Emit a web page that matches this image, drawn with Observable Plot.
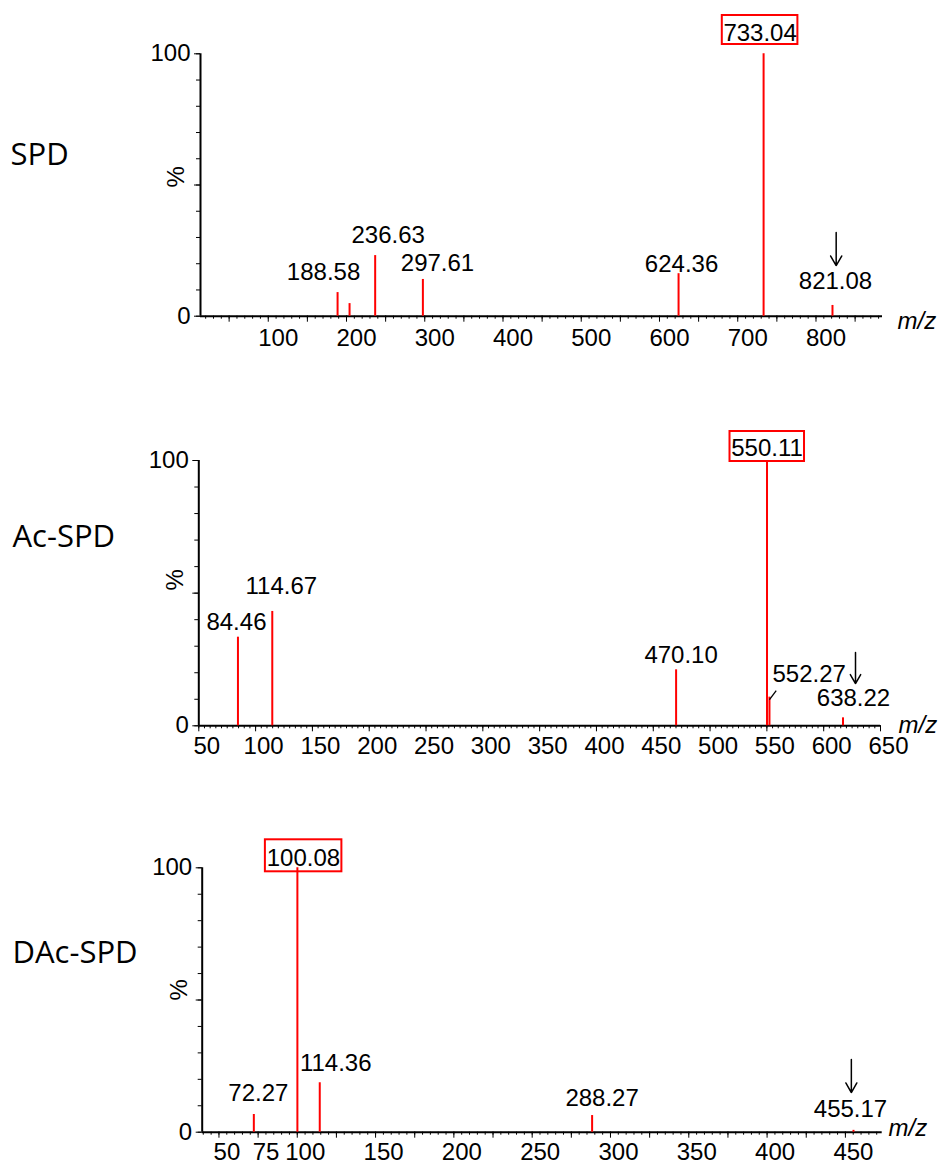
<!DOCTYPE html>
<html><head><meta charset="utf-8">
<script src="https://cdn.jsdelivr.net/npm/d3@7"></script>
<script src="https://cdn.jsdelivr.net/npm/@observablehq/plot@0.6"></script>
<style>
body{margin:0;background:#fff;}
#chart{position:relative;width:941px;height:1164px;background:#fff;}
#chart svg{position:absolute;left:0;overflow:visible;background:transparent;}
</style></head><body><div id="chart"></div>
<script>
// ---------- DATA ----------
const panelNames = ["SPD", "Ac-SPD", "DAc-SPD"];

const spdMz        = [188.58, 203.9, 236.63, 297.61, 624.36, 733.04, 821.08];
const spdIntensity = [9.0, 4.8, 23.1, 14.0, 16.2, 100, 4.1];
const spdLabels    = ["188.58", "", "236.63", "297.61", "624.36", "733.04", "821.08"];
const spdTicks     = [100, 200, 300, 400, 500, 600, 700, 800];

const acMz         = [84.46, 114.67, 470.10, 550.11, 552.27, 617.0];
const acIntensity  = [33.4, 43.1, 21.1, 100, 10.8, 3.0];
const acLabels     = ["84.46", "114.67", "470.10", "550.11", "552.27", "638.22"];
const acTicks      = [50, 100, 150, 200, 250, 300, 350, 400, 450, 500, 550, 600, 650];

const dacMz        = [72.27, 100.08, 114.36, 288.27, 455.17];
const dacIntensity = [6.7, 100, 18.7, 6.3, 0.7];
const dacLabels    = ["72.27", "100.08", "114.36", "288.27", "455.17"];
const dacTicks     = [50, 75, 100, 150, 200, 250, 300, 350, 400, 450];

// precursor arrows (m/z, from %, to %)
const spdArrow = {mz: 825.8, from: 31.9, to: 19.3};
const acArrow  = {mz: 628.0, from: 27.6, to: 15.9};
const dacArrow = {mz: 453.8, from: 27.5, to: 15.0};
// leader line for 552.27
const acLeader = {x1: 552.27, y1: 9.9, x2: 558.2, y2: 13.3};

// ---------- LAYOUT ----------
const FONT = "'Liberation Sans', Arial, sans-serif";
const RED = "#ff0000";
const layouts = [
  {top: 0, height: 360, mt: 53.3, mb: 44.3, ml: 200, mr: 59, domain: [13.4, 885],
   minor: 10, major: 50, labelDx: 10, labelPad: 12.6,
   offsets: [[-14,-13],[0,0],[13,-13],[14.6,-8],[3,-2],[-3.5,-13.3],[3,-16]],
   box: {l: -41.3, r: -34.3, t: -38.3, b: 9.3},
   title: {dx: -190, dy: -29.5}, pct: {dx: -24, dy: 2.5}, mz: {dx: 15, dy: 12.3}},
  {top: 360, height: 400, mt: 100, mb: 34.7, ml: 198.3, mr: 61, domain: [50, 650],
   minor: 5, major: 50, labelDx: 8, labelPad: 11.4,
   offsets: [[-1.5,-6.7],[9,-17],[5,-7],[0,-5],[39.7,-15],[10.5,-12]],
   box: {l: -37, r: -37.5, t: -29, b: -1},
   title: {dx: -186.3, dy: -55.7}, pct: {dx: -23.3, dy: -2.7}, mz: {dx: 18, dy: 6.7}},
  {top: 760, height: 404, mt: 107.3, mb: 32.3, ml: 201.7, mr: 59.3, domain: [39.3, 473.5],
   minor: 5, major: 25, labelDx: 8, labelPad: 11,
   offsets: [[4.5,-13],[6,-2.3],[16,-12],[10,-10],[-3,-13]],
   box: {l: -32, r: -44.5, t: -28, b: -4},
   title: {dx: -189.7, dy: -46.5}, pct: {dx: -23, dy: 0.5}, mz: {dx: 6.3, dy: 3.3}}
];

const datasets = [
  {mz: spdMz, inten: spdIntensity, labels: spdLabels, ticks: spdTicks, base: 5, arrow: spdArrow, leader: null},
  {mz: acMz, inten: acIntensity, labels: acLabels, ticks: acTicks, base: 3, arrow: acArrow, leader: acLeader},
  {mz: dacMz, inten: dacIntensity, labels: dacLabels, ticks: dacTicks, base: 1, arrow: dacArrow, leader: null}
];

const chart = document.getElementById("chart");

datasets.forEach((ds, p) => {
  const L = layouts[p];
  const peaks = ds.mz.map((m, i) => ({mz: m, inten: ds.inten[i], label: ds.labels[i]}));
  const [d0, d1] = L.domain;
  const minorTicks = d3.range(Math.ceil(d0 / L.minor) * L.minor, d1 + 0.001, L.minor);
  const majorTicks = d3.range(Math.ceil(d0 / L.major) * L.major, d1 + 0.001, L.major);

  const marks = [
    Plot.axisY({ticks: d3.range(0, 101, 10), tickSize: 4, text: null, label: null}),
    Plot.axisY({ticks: [0, 50, 100], tickSize: 6, text: null, label: null}),
    Plot.axisY({ticks: [0, 100], tickSize: 0, tickPadding: 10, fontSize: 24, fontFamily: FONT,
                tickFormat: d => String(d), label: null, fill: "#000"}),
    Plot.axisX({ticks: minorTicks, tickSize: 3, text: null, label: null}),
    Plot.axisX({ticks: majorTicks, tickSize: 6, text: null, label: null}),
    Plot.axisX({ticks: ds.ticks, tickSize: 0, tickPadding: L.labelPad, dx: L.labelDx, fontSize: 24,
                fontFamily: FONT, tickFormat: d => String(d), label: null, fill: "#000"}),
    Plot.ruleY([0], {stroke: "#000", strokeWidth: 2}),
    Plot.ruleX([d0], {y1: 0, y2: 100, stroke: "#000", strokeWidth: 2}),
    Plot.ruleX(peaks, {x: "mz", y1: 0, y2: "inten", stroke: RED, strokeWidth: 2}),
    Plot.rect([peaks[ds.base]], {x1: "mz", x2: "mz", y1: "inten", y2: "inten",
      insetLeft: L.box.l, insetRight: L.box.r, insetTop: L.box.t, insetBottom: L.box.b,
      fill: "none", stroke: RED, strokeWidth: 2}),
    Plot.arrow([ds.arrow], {x1: "mz", x2: "mz", y1: "from", y2: "to", stroke: "#000",
      strokeWidth: 1.5, headLength: 13, headAngle: 60}),
    Plot.text([panelNames[p]], {frameAnchor: "left", dx: L.title.dx, dy: L.title.dy, textAnchor: "start",
      lineAnchor: "middle", fontSize: 31, fontFamily: "'Open Sans', sans-serif", fill: "#000"}),
    Plot.text(["%"], {frameAnchor: "left", dx: L.pct.dx, dy: L.pct.dy, rotate: -90, fontSize: 24,
      fontFamily: FONT, fill: "#000"}),
    Plot.text(["m/z"], {frameAnchor: "bottom-right", dx: L.mz.dx, dy: L.mz.dy, textAnchor: "start",
      lineAnchor: "bottom", fontSize: 24, fontStyle: "italic", fontFamily: FONT, fill: "#000"})
  ];
  if (ds.leader) {
    marks.push(Plot.link([ds.leader], {x1: "x1", y1: "y1", x2: "x2", y2: "y2", stroke: "#000", strokeWidth: 1.3}));
  }
  peaks.forEach((pk, i) => {
    if (!pk.label) return;
    const [dx, dy] = L.offsets[i];
    marks.push(Plot.text([pk], {x: "mz", y: "inten", text: "label", dx, dy, lineAnchor: "bottom",
      textAnchor: "middle", fontSize: 24, fontFamily: FONT, fill: "#000"}));
  });

  const svg = Plot.plot({
    width: 941, height: L.height,
    marginTop: L.mt, marginBottom: L.mb, marginLeft: L.ml, marginRight: L.mr,
    x: {type: "linear", domain: L.domain},
    y: {type: "linear", domain: [0, 100]},
    style: {background: "transparent", color: "#000", fontFamily: FONT, overflow: "visible"},
    marks
  });
  svg.style.top = L.top + "px";
  chart.appendChild(svg);
});
</script>
</body></html>
